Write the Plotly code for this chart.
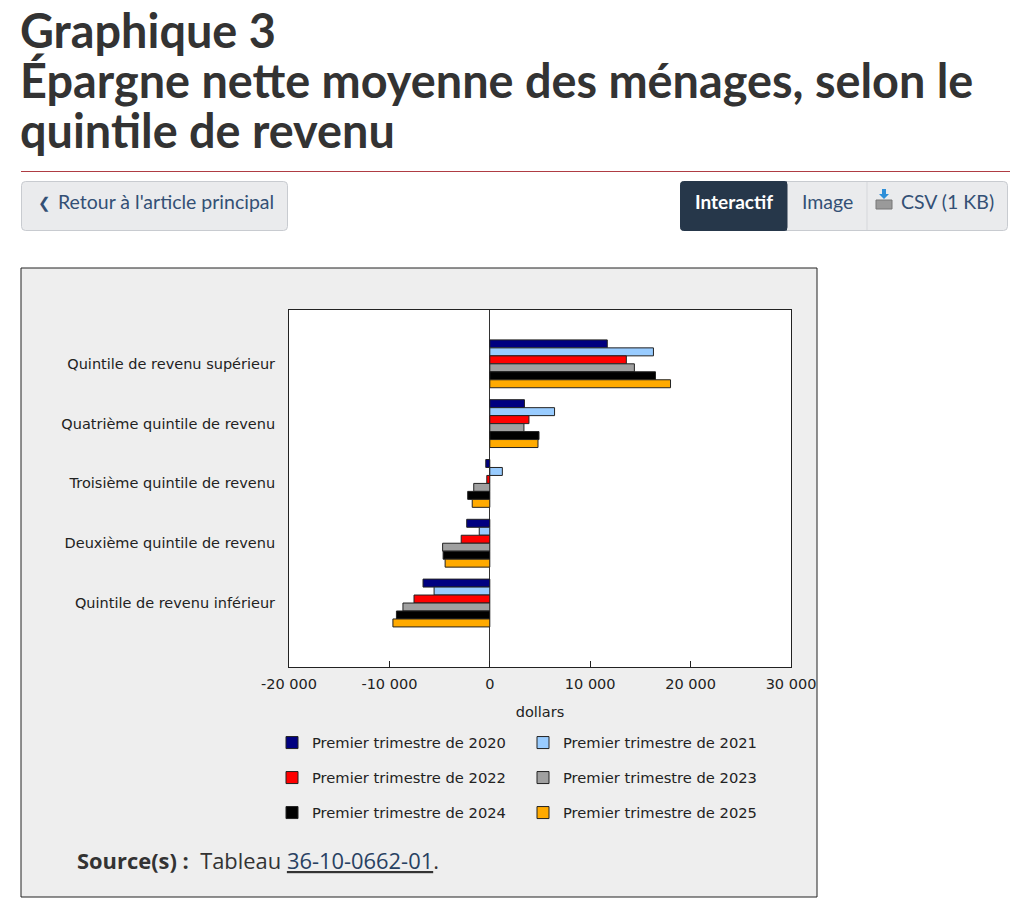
import plotly.graph_objects as go

W, H = 1028, 913

categories = [
    "Quintile de revenu supérieur",
    "Quatrième quintile de revenu",
    "Troisième quintile de revenu",
    "Deuxième quintile de revenu",
    "Quintile de revenu inférieur",
]
series_names = [
    "Premier trimestre de 2020",
    "Premier trimestre de 2021",
    "Premier trimestre de 2022",
    "Premier trimestre de 2023",
    "Premier trimestre de 2024",
    "Premier trimestre de 2025",
]
v2020 = [11700, 3450, -400, -2300, -6650]
v2021 = [16300, 6450, 1250, -1050, -5550]
v2022 = [13600, 3900, -300, -2850, -7550]
v2023 = [14400, 3400, -1600, -4700, -8650]
v2024 = [16500, 4900, -2200, -4650, -9300]
v2025 = [18000, 4800, -1750, -4450, -9650]
series_values = [v2020, v2021, v2022, v2023, v2024, v2025]
colors = ["#000080", "#99CCFF", "#FF0000", "#A0A0A0", "#000000", "#FFAA00"]
legend_ids = ["legend", "legend", "legend2", "legend2", "legend3", "legend3"]

x_tickvals = [-20000, -10000, 0, 10000, 20000, 30000]
x_ticktext = ["-20 000", "-10 000", "0", "10 000", "20 000", "30 000"]


def px(x):
    return x / W


def py(y):
    return 1 - y / H


def rrect(x0, y0, x1, y1, r=4):
    return (
        f"M {px(x0 + r)},{py(y0)} L {px(x1 - r)},{py(y0)} "
        f"Q {px(x1)},{py(y0)} {px(x1)},{py(y0 + r)} "
        f"L {px(x1)},{py(y1 - r)} Q {px(x1)},{py(y1)} {px(x1 - r)},{py(y1)} "
        f"L {px(x0 + r)},{py(y1)} Q {px(x0)},{py(y1)} {px(x0)},{py(y1 - r)} "
        f"L {px(x0)},{py(y0 + r)} Q {px(x0)},{py(y0)} {px(x0 + r)},{py(y0)} Z"
    )


fig = go.Figure()
for name, vals, col, lg in zip(series_names, series_values, colors, legend_ids):
    fig.add_trace(
        go.Bar(
            y=categories,
            x=vals,
            name=name,
            orientation="h",
            marker=dict(color=col, line=dict(color="#222222", width=1)),
            legend=lg,
        )
    )

TXT = "#333333"
shapes = [
    dict(type="rect", xref="paper", yref="paper", x0=px(21), x1=px(817), y0=py(268), y1=py(897),
         fillcolor="#EEEEEE", line=dict(color="#222222", width=1), layer="below"),
    dict(type="rect", xref="paper", yref="paper", x0=px(289), x1=px(791), y0=py(310), y1=py(667),
         fillcolor="#FFFFFF", line=dict(width=0), layer="below"),
    dict(type="line", xref="paper", yref="paper", x0=px(21), x1=px(1010), y0=py(171.5), y1=py(171.5),
         line=dict(color="#AF3C43", width=1)),
    dict(type="path", xref="paper", yref="paper", path=rrect(21.5, 181.5, 287.5, 230.5),
         fillcolor="#EAEBED", line=dict(color="#C8CBD0", width=1)),
    dict(type="path", xref="paper", yref="paper", path=rrect(680.5, 181.5, 1007.5, 230.5),
         fillcolor="#EAEBED", line=dict(color="#C8CBD0", width=1)),
    dict(type="path", xref="paper", yref="paper", path=rrect(680.5, 181.5, 787, 230.5, 3),
         fillcolor="#26374A", line=dict(color="#26374A", width=1)),
    dict(type="rect", xref="paper", yref="paper", x0=px(781), x1=px(787), y0=py(181.5), y1=py(230.5),
         fillcolor="#26374A", line=dict(width=0)),
    dict(type="line", xref="paper", yref="paper", x0=px(867), x1=px(867), y0=py(182), y1=py(230),
         line=dict(color="#D5D7DB", width=1)),
    dict(type="rect", xref="paper", yref="paper", x0=px(876), x1=px(892), y0=py(200), y1=py(209),
         fillcolor="#9A9A9A", line=dict(color="#777777", width=1)),
    dict(type="path", xref="paper", yref="paper",
         path=f"M {px(882)},{py(189)} L {px(886)},{py(189)} L {px(886)},{py(194)} L {px(889)},{py(194)} "
              f"L {px(884)},{py(199)} L {px(879)},{py(194)} L {px(882)},{py(194)} Z",
         fillcolor="#2E8FD8", line=dict(width=0)),
]

ann = []


def A(text, x, y, size, color=TXT, family="Lato", xanchor="left", yanchor="middle"):
    ann.append(dict(text=text, x=px(x), y=py(y), xref="paper", yref="paper", showarrow=False,
                    xanchor=xanchor, yanchor=yanchor, font=dict(size=size, color=color, family=family)))


A("<b>Graphique 3</b>", 18, 30, 46.8)
A("<b>Épargne nette moyenne des ménages, selon le</b>", 18, 80, 46.8)
A("<b>quintile de revenu</b>", 18, 130, 46.8)
A("❮", 36, 203, 15, color="#335075", family="DejaVu Sans")
A("Retour à l'article principal", 56, 202, 19.5, color="#335075")
A("<b>Interactif</b>", 734, 202, 19, color="#FFFFFF", xanchor="center")
A("Image", 827, 202, 19.5, color="#335075", xanchor="center")
A("CSV (1 KB)", 899, 202, 19.5, color="#335075")
A("<b>Source(s) :</b>  Tableau <span style='text-decoration:underline'>"
  "<a href='#' style='color:#284162'>36-10-0662-01</a></span>.", 75, 860, 21.9,
  family="Open Sans")

fig.update_layout(
    width=W,
    height=H,
    autosize=False,
    margin=dict(l=0, r=0, t=0, b=0, pad=0, autoexpand=False),
    paper_bgcolor="#FFFFFF",
    plot_bgcolor="rgba(0,0,0,0)",
    barmode="group",
    bargap=0.2,
    bargroupgap=0,
    font=dict(family="DejaVu Sans", size=14.5, color="#222222"),
    shapes=shapes,
    annotations=ann,
    xaxis=dict(
        domain=[px(289), px(791)],
        range=[-20000, 30000],
        tickvals=x_tickvals,
        ticktext=x_ticktext,
        ticks="inside",
        ticklen=6,
        tickcolor="#222222",
        ticklabelstandoff=4,
        showgrid=False,
        zeroline=True,
        zerolinecolor="#333333",
        zerolinewidth=1,
        showline=True,
        linecolor="#222222",
        linewidth=1,
        mirror=True,
        automargin=False,
        title=dict(text="dollars", standoff=15, font=dict(size=14.5)),
        fixedrange=True,
    ),
    yaxis=dict(
        domain=[py(667), py(310)],
        range=[5.07, -0.9],
        showgrid=False,
        ticks="",
        ticklabelstandoff=10,
        showline=True,
        linecolor="#222222",
        linewidth=1,
        mirror=True,
        automargin=False,
        fixedrange=True,
    ),
    legend=dict(orientation="h", x=px(272), y=py(743), xanchor="left", yanchor="middle",
                entrywidth=206, bgcolor="rgba(0,0,0,0)", font=dict(size=14.7)),
    legend2=dict(orientation="h", x=px(272), y=py(778), xanchor="left", yanchor="middle",
                 entrywidth=206, bgcolor="rgba(0,0,0,0)", font=dict(size=14.7)),
    legend3=dict(orientation="h", x=px(272), y=py(813), xanchor="left", yanchor="middle",
                 entrywidth=206, bgcolor="rgba(0,0,0,0)", font=dict(size=14.7)),
)

fig.write_html("out.html", config={"displayModeBar": False},
               post_script="document.body.style.margin='0';document.body.style.overflow='hidden';")
